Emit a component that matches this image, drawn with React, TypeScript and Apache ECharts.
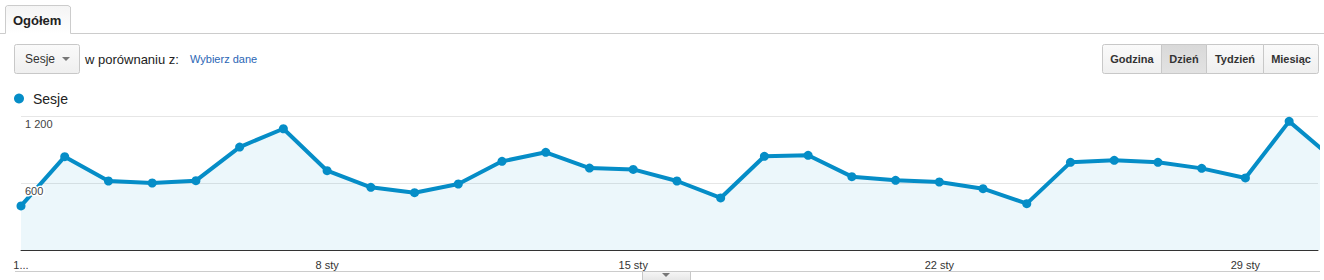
import React, { useEffect, useRef } from "react";
import * as echarts from "echarts";

const dates = [
  "1 sty", "2 sty", "3 sty", "4 sty", "5 sty", "6 sty", "7 sty", "8 sty", "9 sty", "10 sty",
  "11 sty", "12 sty", "13 sty", "14 sty", "15 sty", "16 sty", "17 sty", "18 sty", "19 sty", "20 sty",
  "21 sty", "22 sty", "23 sty", "24 sty", "25 sty", "26 sty", "27 sty", "28 sty", "29 sty", "30 sty", "31 sty",
];
const sessions = [
  395, 836, 618, 600, 621, 922, 1086, 710, 561, 513,
  591, 794, 875, 734, 722, 618, 466, 839, 848, 657,
  624, 609, 549, 415, 785, 803, 785, 731, 645, 1152, 820,
];
const xTickIndices = [0, 7, 14, 21, 28];
const xTickLabels = ["1...", "8 sty", "15 sty", "22 sty", "29 sty"];
const yTickValues = [0, 600, 1200];
const yTickLabels = ["", "600", "1 200"];
const periodButtons = ["Godzina", "Dzień", "Tydzień", "Miesiąc"];
const seriesName = "Sesje";

const FONT = "Arial, 'Liberation Sans', sans-serif";
const BLUE = "#058dc7";

function btnGradient(c1: string, c2: string) {
  return new echarts.graphic.LinearGradient(0, 0, 0, 1, [
    { offset: 0, color: c1 },
    { offset: 1, color: c2 },
  ]);
}

export default function App() {
  const ref = useRef<HTMLDivElement>(null);

  useEffect(() => {
    document.body.style.margin = "0";
    if (!ref.current) return;
    const chart = echarts.init(ref.current, undefined, { renderer: "svg" });

    const btnEdges = [1102, 1161, 1206, 1263, 1318];
    const buttonGraphics: any[] = [];
    periodButtons.forEach((label, i) => {
      const x0 = btnEdges[i];
      const x1 = btnEdges[i + 1];
      const selected = i === 1;
      buttonGraphics.push({
        type: "rect",
        shape: { x: x0 + 0.5, y: 44.5, width: x1 - x0, height: 29, r: i === 0 ? [2, 0, 0, 2] : i === 3 ? [0, 2, 2, 0] : 0 },
        style: {
          fill: selected ? btnGradient("#d9d9d9", "#e2e2e2") : btnGradient("#fafafa", "#efefef"),
          stroke: "#c8c8c8",
          lineWidth: 1,
        },
      });
      buttonGraphics.push({
        type: "text",
        style: {
          x: (x0 + x1) / 2 + 0.5,
          y: 59,
          text: label,
          font: `bold 11px ${FONT}`,
          fill: "#333",
          align: "center",
          verticalAlign: "middle",
        },
      });
    });

    const graphics: any[] = [
      // tab
      {
        type: "rect",
        shape: { x: 5, y: 5, width: 65, height: 29, r: [3, 3, 0, 0] },
        style: { fill: btnGradient("#f4f4f4", "#ffffff") },
      },
      {
        type: "polyline",
        shape: { points: [[0, 33.5], [5.5, 33.5], [5.5, 7], [7.5, 5.5], [68, 5.5], [70.5, 7], [70.5, 33.5], [1324, 33.5]] },
        style: { stroke: "#cccccc", lineWidth: 1, fill: null },
      },
      {
        type: "text",
        style: { x: 13, y: 20, text: "Ogółem", font: `bold 13px ${FONT}`, fill: "#222", verticalAlign: "middle" },
      },
      // metric dropdown
      {
        type: "rect",
        shape: { x: 14.5, y: 44.5, width: 65, height: 29, r: 2 },
        style: { fill: btnGradient("#fafafa", "#efefef"), stroke: "#c8c8c8", lineWidth: 1 },
      },
      {
        type: "text",
        style: { x: 25, y: 59, text: "Sesje", font: `12px ${FONT}`, fill: "#333", verticalAlign: "middle" },
      },
      {
        type: "polygon",
        shape: { points: [[62, 57], [70, 57], [66, 61]] },
        style: { fill: "#777" },
      },
      {
        type: "text",
        style: { x: 85, y: 59, text: "w porównaniu z:", font: `13px ${FONT}`, fill: "#222", verticalAlign: "middle" },
      },
      {
        type: "text",
        style: { x: 190, y: 59, text: "Wybierz dane", font: `11px ${FONT}`, fill: "#2a66b5", verticalAlign: "middle" },
      },
      ...buttonGraphics,
      // legend
      {
        type: "circle",
        shape: { cx: 19, cy: 98.5, r: 5 },
        style: { fill: BLUE },
      },
      {
        type: "text",
        style: { x: 33, y: 99, text: seriesName, font: `14px ${FONT}`, fill: "#222", verticalAlign: "middle" },
      },
      // bottom line and toggle tab
      {
        type: "line",
        shape: { x1: 15, y1: 271.5, x2: 1320, y2: 271.5 },
        style: { stroke: "#cccccc", lineWidth: 1 },
      },
      {
        type: "rect",
        shape: { x: 642.5, y: 271.5, width: 48, height: 9 },
        style: { fill: btnGradient("#f6f6f6", "#e6e6e6"), stroke: "#c8c8c8", lineWidth: 1 },
      },
      {
        type: "polygon",
        shape: { points: [[662, 273], [670, 273], [666, 277]] },
        style: { fill: "#777" },
      },
    ];

    const axisMin = 0;
    const axisMax = 29.66;

    chart.setOption({
      animation: false,
      grid: { left: 21, right: 6, top: 116, bottom: 30, containLabel: false },
      xAxis: {
        type: "value",
        min: axisMin,
        max: axisMax,
        interval: 7,
        axisLine: { show: true, lineStyle: { color: "#333", width: 1 } },
        axisTick: { show: false },
        splitLine: { show: false },
        axisLabel: {
          margin: 9,
          fontSize: 11,
          fontFamily: FONT,
          color: "#333",
          showMinLabel: true,
          showMaxLabel: false,
          formatter: (v: number) => {
            const k = xTickIndices.indexOf(Math.round(v));
            if (Math.abs(v - Math.round(v)) > 0.01 || k < 0) return "";
            return xTickLabels[k];
          },
        },
      },
      yAxis: [
        {
          type: "value",
          min: 0,
          max: 1200,
          interval: 600,
          axisLine: { show: false },
          axisTick: { show: false },
          axisLabel: { show: false },
          splitLine: { show: true, lineStyle: { color: "#e6e6e6", width: 1 } },
          z: 0,
        },
        {
          type: "value",
          min: 0,
          max: 1200,
          interval: 600,
          position: "left",
          axisLine: { show: false },
          axisTick: { show: false },
          splitLine: { show: false },
          z: 10,
          axisLabel: {
            inside: true,
            margin: 4,
            align: "left",
            verticalAlign: "top",
            padding: [2, 0, 0, 0],
            fontSize: 11,
            fontFamily: FONT,
            color: "#444",
            textBorderColor: "#ffffff",
            textBorderWidth: 3,
            formatter: (v: number) => {
              const k = yTickValues.indexOf(v);
              return k < 0 ? "" : yTickLabels[k];
            },
          },
        },
      ],
      series: [
        {
          name: seriesName,
          type: "line",
          yAxisIndex: 0,
          data: sessions.map((v, i) => [i, v]),
          clip: true,
          symbol: "circle",
          symbolSize: 9,
          showSymbol: true,
          lineStyle: { color: BLUE, width: 4 },
          itemStyle: { color: BLUE },
          areaStyle: { color: "rgba(5,141,199,0.105)" },
          z: 2,
        },
      ],
      graphic: graphics,
    });

    return () => {
      chart.dispose();
    };
  }, []);

  return <div ref={ref} style={{ width: 1324, height: 280 }} />;
}
